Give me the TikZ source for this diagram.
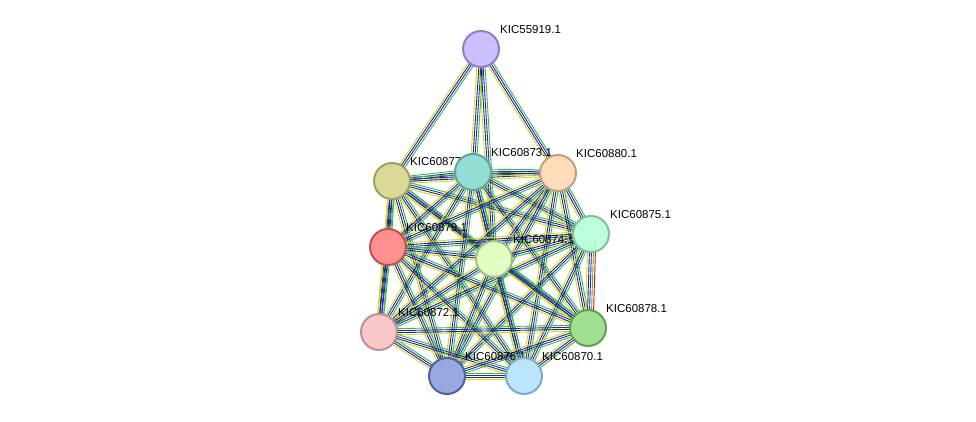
\documentclass[tikz,border=0pt]{standalone}
\usepackage{fontspec}
\setmainfont{Liberation Sans}
\usetikzlibrary{calc}
\begin{document}
\begin{tikzpicture}[x=1pt,y=-1pt,
  prot/.style={circle,minimum size=36pt,inner sep=0pt,line width=2pt},
  lab/.style={font=\fontsize{11.5}{13}\selectfont,anchor=south west,inner sep=0pt},
  e/.style={line width=0.9pt}]
\useasboundingbox[fill=white] (0,0) rectangle (976,422);
\definecolor{eg}{HTML}{33C033}\definecolor{eb}{HTML}{2020E0}
\definecolor{ek}{HTML}{303030}\definecolor{ey}{HTML}{C8D840}
\coordinate (a) at (481,49);
\coordinate (b) at (392,181);
\coordinate (c) at (473,172);
\coordinate (d) at (558,173);
\coordinate (f) at (591,234);
\coordinate (g) at (388,247);
\coordinate (h) at (494,259);
\coordinate (i) at (379,332);
\coordinate (j) at (588,328);
\coordinate (k) at (447,376);
\coordinate (l) at (524,376);
\foreach \u/\v in {a/b,a/c,a/d,a/h,b/c,b/d,b/f,b/g,b/h,b/i,b/j,b/k,b/l,c/d,c/f,c/g,c/h,c/i,c/j,c/k,c/l,d/f,d/g,d/h,d/i,d/j,d/k,d/l,f/g,f/h,f/i,f/j,f/k,f/l,g/h,g/i,g/j,g/k,g/l,h/i,h/j,h/k,h/l,i/j,i/k,i/l,j/k,j/l,k/l}{
  \draw[e,eg] ($(\u)!3pt!90:(\v)$) -- ($(\v)!3pt!-90:(\u)$);
  \draw[e,eb] ($(\u)!1pt!90:(\v)$) -- ($(\v)!1pt!-90:(\u)$);
  \draw[e,ek] ($(\u)!1pt!-90:(\v)$) -- ($(\v)!1pt!90:(\u)$);
  \draw[e,ey] ($(\u)!3pt!-90:(\v)$) -- ($(\v)!3pt!90:(\u)$);
}
\draw[e,red] ([shift={(5,0)}]f) -- ([shift={(5,0)}]j);
\node[lab] (la) at (500,34) {KIC55919.1};
\node[lab] (lb) at (410,166) {KIC60877.1};
\node[lab] (lc) at (491,157) {KIC60873.1};
\node[lab] (ld) at (576,158) {KIC60880.1};
\node[lab] (lf) at (610,219) {KIC60875.1};
\node[lab] (lg) at (406,232) {KIC60879.1};
\node[lab] (lh) at (513,244) {KIC60874.1};
\node[lab] (li) at (398,317) {KIC60872.1};
\node[lab] (lj) at (606,313) {KIC60878.1};
\node[lab] (lk) at (465,361) {KIC60876.1};
\node[lab] (ll) at (542,361) {KIC60870.1};
\node[prot,fill={rgb,255:red,204;green,190;blue,255},draw={rgb,255:red,145;green,125;blue,200}] (na) at (a) {};
\node[prot,fill={rgb,255:red,218;green,218;blue,152},draw={rgb,255:red,160;green,160;blue,96}] (nb) at (b) {};
\node[prot,fill={rgb,255:red,147;green,221;blue,210},draw={rgb,255:red,95;green,167;blue,157}] (nc) at (c) {};
\node[prot,fill={rgb,255:red,255;green,221;blue,187},draw={rgb,255:red,192;green,160;blue,128}] (nd) at (d) {};
\node[prot,fill={rgb,255:red,187;green,255;blue,221},draw={rgb,255:red,128;green,192;blue,160}] (nf) at (f) {};
\node[prot,fill={rgb,255:red,255;green,144;blue,144},draw={rgb,255:red,192;green,80;blue,80}] (ng) at (g) {};
\node[prot,fill={rgb,255:red,224;green,255;blue,192},draw={rgb,255:red,160;green,192;blue,128}] (nh) at (h) {};
\node[prot,fill={rgb,255:red,248;green,200;blue,200},draw={rgb,255:red,192;green,144;blue,144}] (ni) at (i) {};
\node[prot,fill={rgb,255:red,160;green,224;blue,144},draw={rgb,255:red,96;green,160;blue,80}] (nj) at (j) {};
\node[prot,fill={rgb,255:red,152;green,168;blue,224},draw={rgb,255:red,80;green,96;blue,160}] (nk) at (k) {};
\node[prot,fill={rgb,255:red,187;green,229;blue,250},draw={rgb,255:red,128;green,168;blue,200}] (nl) at (l) {};
\end{tikzpicture}
\end{document}
